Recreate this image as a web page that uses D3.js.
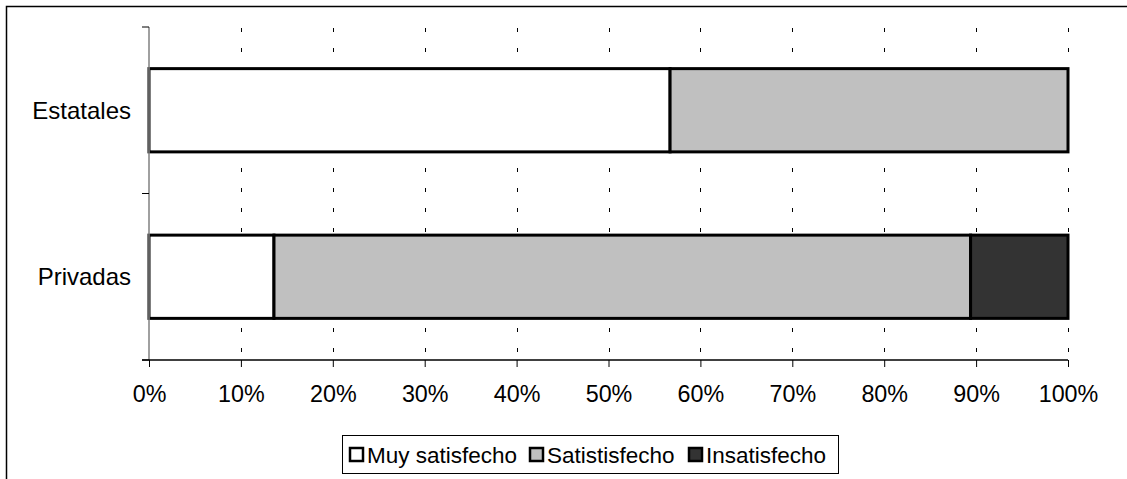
<!DOCTYPE html>
<html>
<head>
<meta charset="utf-8">
<script src="https://cdnjs.cloudflare.com/ajax/libs/d3/7.8.5/d3.min.js"></script>
<style>
  body { margin: 0; background: #fff; }
  text { font-family: "Liberation Sans", Arial, sans-serif; fill: #000; }
</style>
</head>
<body>
<div id="vis-container"></div>
<script>
// data (percent of each row)
var categories = ["Estatales", "Privadas"];
var seriesNames = ["Muy satisfecho", "Satistisfecho", "Insatisfecho"];
var muySatisfecho = [56.7, 13.6];
var satisfecho = [43.3, 75.8];
var insatisfecho = [0, 10.6];
var xTicks = [0, 10, 20, 30, 40, 50, 60, 70, 80, 90, 100];
var colors = ["#ffffff", "#c0c0c0", "#333333"];

var width = 1127, height = 479;
var margins = { top: 27, right: 59, bottom: 119, left: 149 };
var visWidth = width - margins.left - margins.right;   // 919
var visHeight = height - margins.top - margins.bottom; // 333

var svg = d3.select("#vis-container").append("svg")
    .attr("width", width).attr("height", height);

// outer chart border (right/bottom edges fall outside the picture)
svg.append("rect")
    .attr("x", 6.5).attr("y", 6.5)
    .attr("width", 1130).attr("height", 480)
    .attr("fill", "none").attr("stroke", "#000").attr("stroke-width", 1.5);

var viewport = svg.append("g")
    .attr("transform", "translate(" + margins.left + "," + margins.top + ")");

var xScale = d3.scaleLinear().domain([0, 100]).range([0, visWidth]);
var yScale = d3.scaleBand().domain(categories).range([0, visHeight]).paddingInner(0.5).paddingOuter(0.25);

// dashed gridlines
viewport.append("g").selectAll("line")
    .data(xTicks.filter(d => d > 0))
    .enter().append("line")
    .attr("x1", d => Math.round(xScale(d)) + 0.5)
    .attr("x2", d => Math.round(xScale(d)) + 0.5)
    .attr("y1", 0).attr("y2", visHeight)
    .attr("stroke", "#000").attr("stroke-width", 1)
    .attr("stroke-dasharray", "4,16")
    .attr("stroke-dashoffset", -1);

// stack the series
var rows = categories.map((c, i) => ({
    cat: c, vals: [muySatisfecho[i], satisfecho[i], insatisfecho[i]]
}));
var segs = [];
rows.forEach(r => {
    var acc = 0;
    r.vals.forEach((v, k) => {
        if (v > 0) segs.push({ cat: r.cat, k: k, x0: acc, x1: acc + v });
        acc += v;
    });
});

viewport.append("g").selectAll("rect")
    .data(segs).enter().append("rect")
    .attr("x", d => xScale(d.x0))
    .attr("width", d => xScale(d.x1) - xScale(d.x0))
    .attr("y", d => yScale(d.cat))
    .attr("height", yScale.bandwidth())
    .attr("fill", d => colors[d.k])
    .attr("stroke", "#000").attr("stroke-width", 3);

// y axis (gray line, ticks at band edges)
var yAxisG = viewport.append("g");
yAxisG.append("line")
    .attr("x1", 0).attr("x2", 0).attr("y1", 0).attr("y2", visHeight)
    .attr("stroke", "#808080").attr("stroke-width", 1.5);
var bandEdges = [0, visHeight / 2, visHeight];
yAxisG.selectAll(".ytick").data(bandEdges).enter().append("line")
    .attr("x1", -7).attr("x2", 0)
    .attr("y1", d => d).attr("y2", d => d)
    .attr("stroke", "#000").attr("stroke-width", 1);
yAxisG.selectAll(".ylab").data(categories).enter().append("text")
    .attr("x", -18)
    .attr("y", d => yScale(d) + yScale.bandwidth() / 2 + 8.5)
    .attr("text-anchor", "end")
    .style("font-size", "24px")
    .text(d => d);

// x axis
var xAxis = d3.axisBottom(xScale).tickValues(xTicks)
    .tickFormat(d => d + "%").tickSizeInner(7).tickSizeOuter(0).tickPadding(18);
var xAxisG = viewport.append("g")
    .attr("transform", "translate(0," + visHeight + ")")
    .call(xAxis);
xAxisG.select(".domain").attr("stroke", "#000").attr("stroke-width", 1.5)
    .attr("d", "M-7,0H" + visWidth);
xAxisG.selectAll(".tick line").attr("stroke", "#000");
xAxisG.selectAll(".tick text")
    .style("font-size", "23.3px")
    .style("font-family", "'Liberation Sans', Arial, sans-serif")
    .attr("fill", "#000");

// legend
var legend = svg.append("g").attr("transform", "translate(342,435)");
legend.append("rect")
    .attr("x", 0.5).attr("y", 0.5).attr("width", 496).attr("height", 38)
    .attr("fill", "#fff").attr("stroke", "#000").attr("stroke-width", 1);
var legendX = [7, 187, 346];
var items = legend.selectAll(".item").data(seriesNames).enter().append("g")
    .attr("transform", (d, i) => "translate(" + legendX[i] + ",0)");
items.append("rect")
    .attr("x", 1).attr("y", 13).attr("width", 13).attr("height", 13)
    .attr("fill", (d, i) => colors[i])
    .attr("stroke", "#000").attr("stroke-width", 2.5);
items.append("text")
    .attr("x", 18).attr("y", 28)
    .style("font-size", "22.5px")
    .text(d => d);
</script>
</body>
</html>
